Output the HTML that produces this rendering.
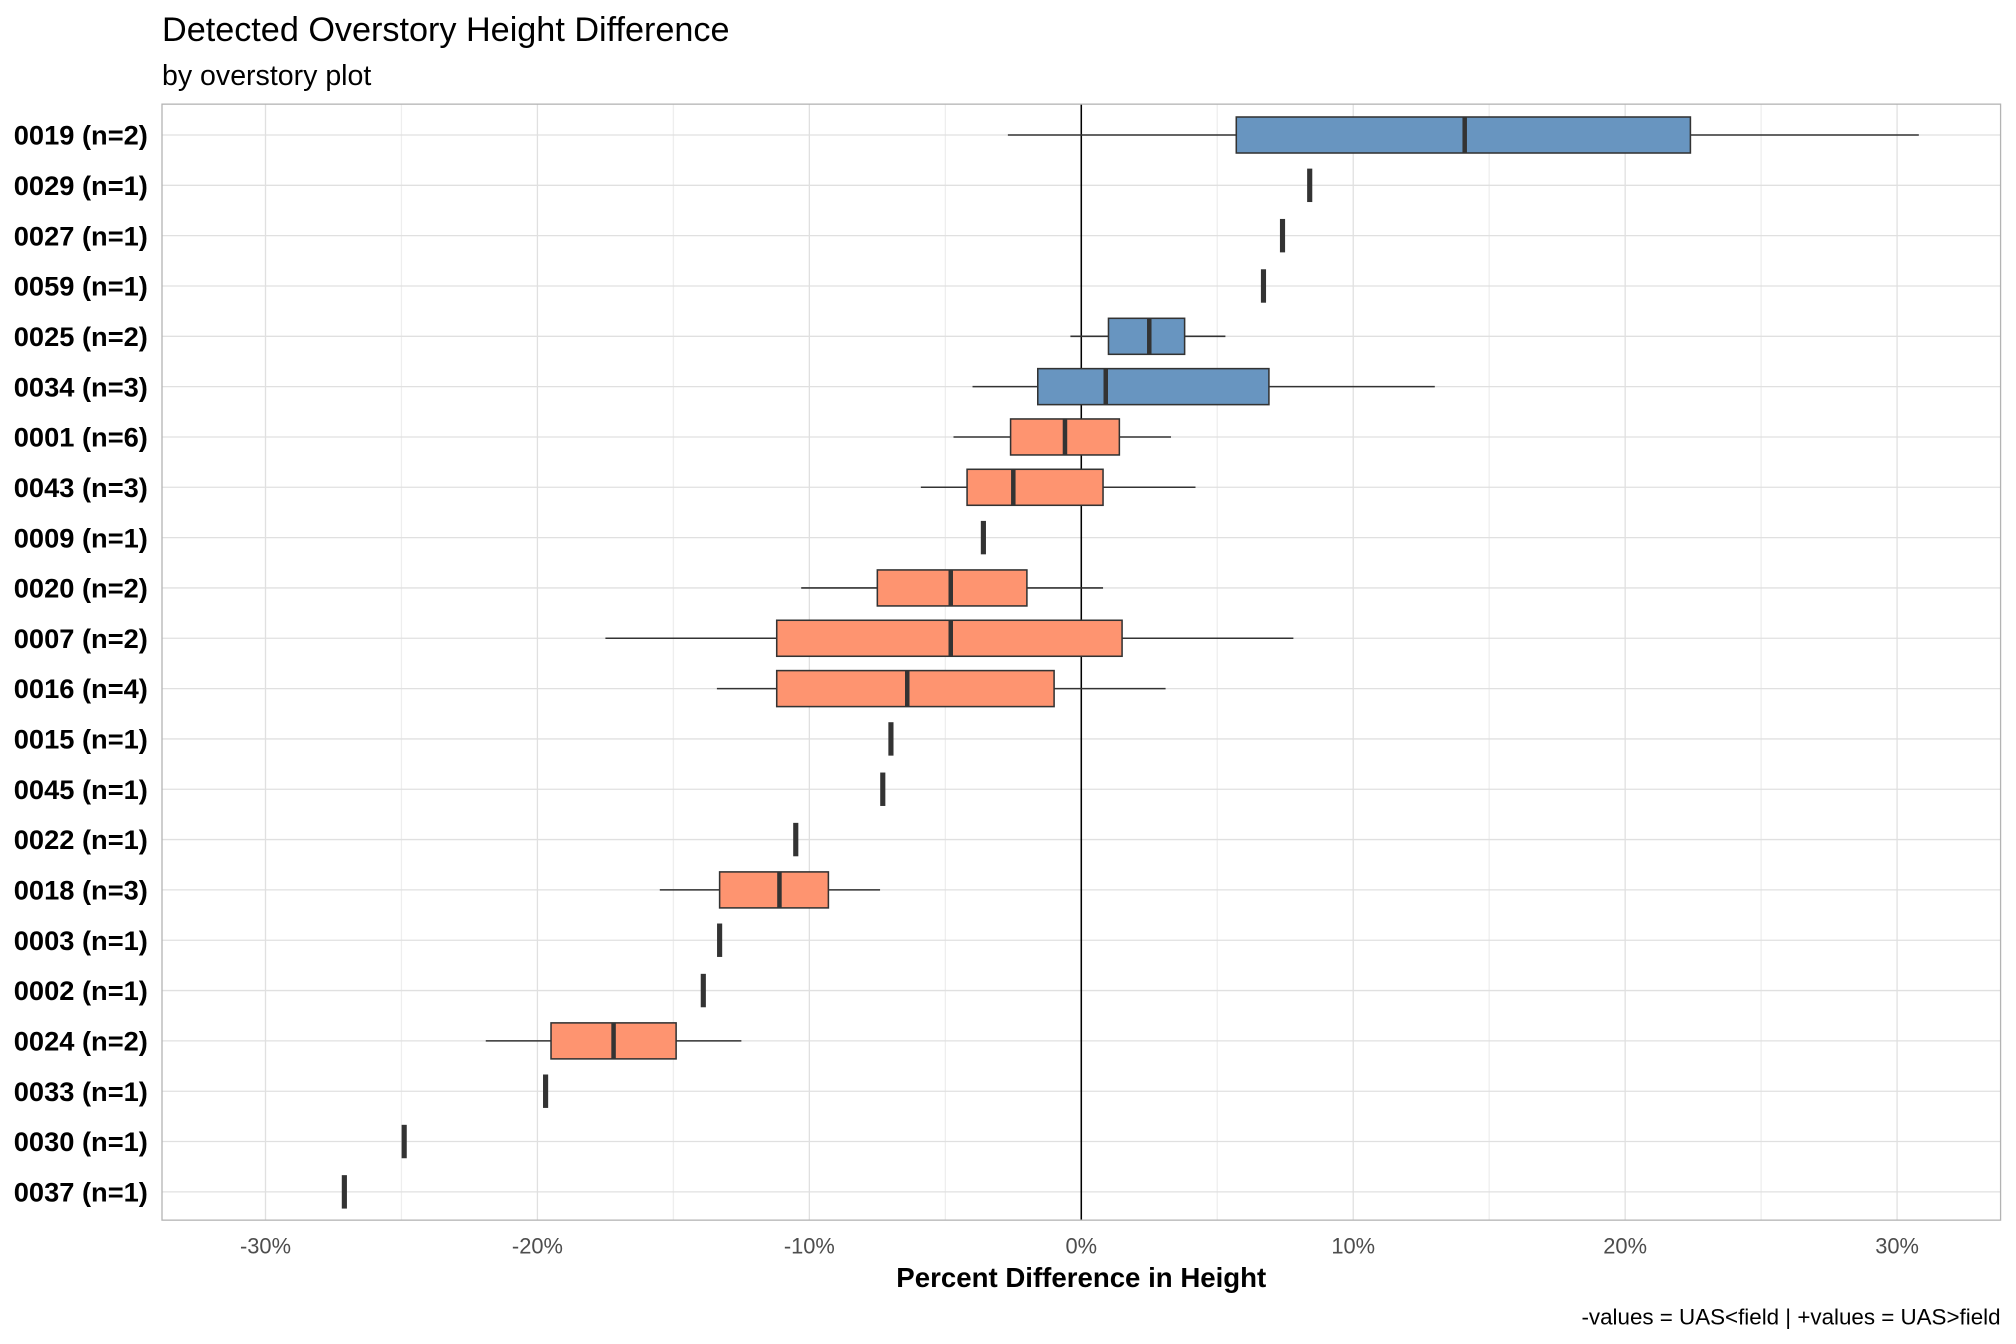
<!DOCTYPE html>
<html><head><meta charset="utf-8"><style>
html,body{margin:0;padding:0;background:#fff;}
svg{display:block;font-family:"Liberation Sans",Arial,sans-serif;}
</style></head><body>
<svg id="chart" width="2016" height="1344" viewBox="0 0 1568 1045.33" xmlns="http://www.w3.org/2000/svg">
<rect width="1568" height="1046" fill="#fff"/>
<text x="126" y="32" font-size="26.6" fill="#000">Detected Overstory Height Difference</text>
<text x="126" y="66" font-size="22.2" fill="#000">by overstory plot</text>
<g id="grid"></g>
<g id="marks"></g>
<rect x="126" y="81" width="1430" height="868" fill="none" stroke="#b3b3b3" stroke-width="1"/>
<g id="ylabels"></g>
<g id="xlabels"></g>
<text x="841" y="1001" font-size="21.5" font-weight="bold" text-anchor="middle">Percent Difference in Height</text>
<text x="1556" y="1030" font-size="17.4" text-anchor="end">-values = UAS&lt;field | +values = UAS&gt;field</text>
</svg>
<script>
const categories=["0019 (n=2)","0029 (n=1)","0027 (n=1)","0059 (n=1)","0025 (n=2)","0034 (n=3)","0001 (n=6)","0043 (n=3)","0009 (n=1)","0020 (n=2)","0007 (n=2)","0016 (n=4)","0015 (n=1)","0045 (n=1)","0022 (n=1)","0018 (n=3)","0003 (n=1)","0002 (n=1)","0024 (n=2)","0033 (n=1)","0030 (n=1)","0037 (n=1)"];
const lows=[-2.7,8.4,7.4,6.7,-0.4,-4.0,-4.7,-5.9,-3.6,-10.3,-17.5,-13.4,-7.0,-7.3,-10.5,-15.5,-13.3,-13.9,-21.9,-19.7,-24.9,-27.1];
const q1s=[5.7,8.4,7.4,6.7,1.0,-1.6,-2.6,-4.2,-3.6,-7.5,-11.2,-11.2,-7.0,-7.3,-10.5,-13.3,-13.3,-13.9,-19.5,-19.7,-24.9,-27.1];
const medians=[14.1,8.4,7.4,6.7,2.5,0.9,-0.6,-2.5,-3.6,-4.8,-4.8,-6.4,-7.0,-7.3,-10.5,-11.1,-13.3,-13.9,-17.2,-19.7,-24.9,-27.1];
const q3s=[22.4,8.4,7.4,6.7,3.8,6.9,1.4,0.8,-3.6,-2.0,1.5,-1.0,-7.0,-7.3,-10.5,-9.3,-13.3,-13.9,-14.9,-19.7,-24.9,-27.1];
const highs=[30.8,8.4,7.4,6.7,5.3,13.0,3.3,4.2,-3.6,0.8,7.8,3.1,-7.0,-7.3,-10.5,-7.4,-13.3,-13.9,-12.5,-19.7,-24.9,-27.1];
const xTicks=[-30,-20,-10,0,10,20,30];
const xTickLabels=["-30%","-20%","-10%","0%","10%","20%","30%"];
const NS="http://www.w3.org/2000/svg";
const x=v=>841+v*21.15;
const y=i=>105+i*39.143;
function mk(tag,attrs,parent){const e=document.createElementNS(NS,tag);for(const k in attrs)e.setAttribute(k,attrs[k]);parent.appendChild(e);return e;}
const grid=document.getElementById('grid'),marks=document.getElementById('marks'),yl=document.getElementById('ylabels'),xl=document.getElementById('xlabels');
for(let v=-30;v<=30;v+=5){
  const g=mk('line',{x1:x(v),x2:x(v),y1:81,y2:949,stroke:v%10===0?'#e0e0e0':'#eeeeee','stroke-width':1},grid);
  
  
}
categories.forEach((c,i)=>{
  const g=mk('line',{x1:126,x2:1556,y1:y(i),y2:y(i),stroke:'#e0e0e0','stroke-width':1},grid);
  
  
  const t=mk('text',{x:115,y:y(i)+7.5,'font-size':21.2,'font-weight':'bold','text-anchor':'end'},yl);
  t.textContent=c;
  
  
});
const zl=mk('line',{x1:x(0),x2:x(0),y1:81,y2:949,stroke:'#000','stroke-width':1.2},grid);


xTicks.forEach((v,i)=>{
  const t=mk('text',{x:x(v),y:975,'font-size':17,fill:'#4d4d4d','text-anchor':'middle'},xl);
  t.textContent=xTickLabels[i];
  
  
});
categories.forEach((c,i)=>{
  const cy=y(i);
  const g=mk('g',{},marks);
  
  
  if(highs[i]-lows[i]<0.01){
    mk('rect',{x:x(medians[i])-2,y:cy-13,width:4,height:26,fill:'#333'},g);
    return;
  }
  const fill=medians[i]>0?'#6895c0':'#fe9470';
  mk('line',{x1:x(lows[i]),x2:x(q1s[i]),y1:cy,y2:cy,stroke:'#333','stroke-width':1.2},g);
  mk('line',{x1:x(q3s[i]),x2:x(highs[i]),y1:cy,y2:cy,stroke:'#333','stroke-width':1.2},g);
  mk('rect',{x:x(q1s[i]),y:cy-14,width:x(q3s[i])-x(q1s[i]),height:28,fill:fill,stroke:'#333','stroke-width':1.2},g);
  mk('line',{x1:x(medians[i]),x2:x(medians[i]),y1:cy-14,y2:cy+14,stroke:'#333','stroke-width':3.5},g);
});
</script>
</body></html>
